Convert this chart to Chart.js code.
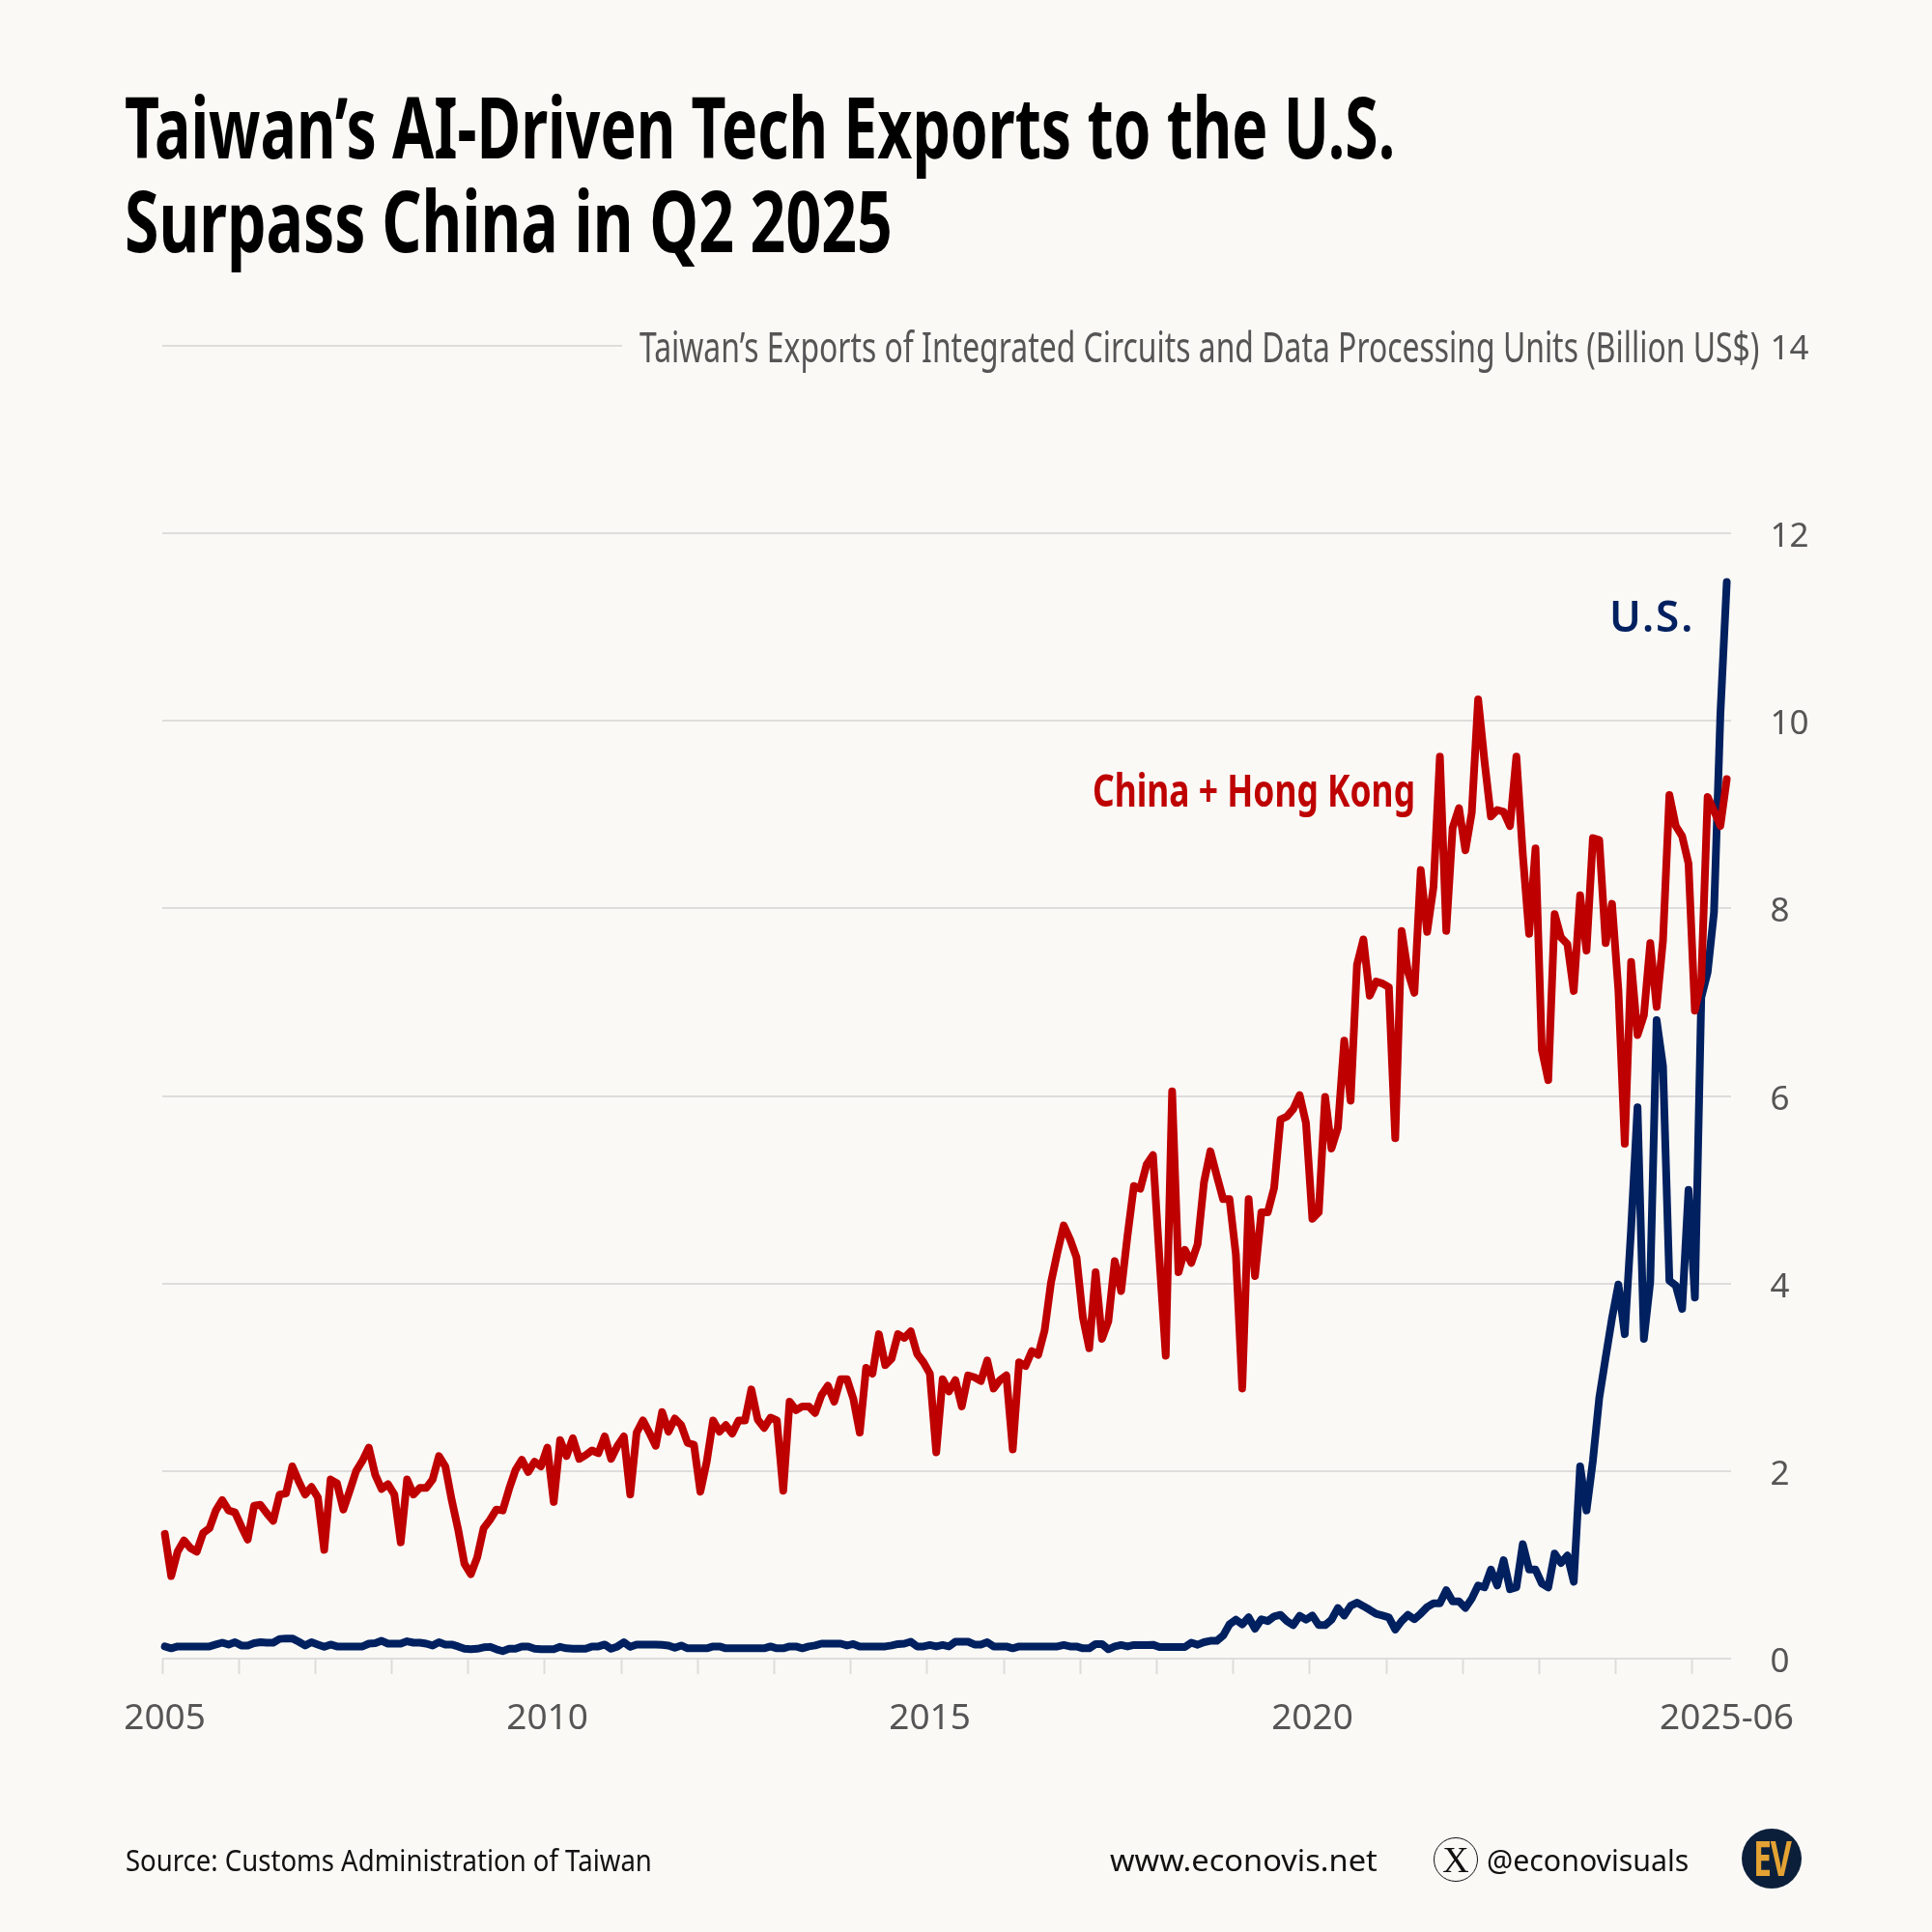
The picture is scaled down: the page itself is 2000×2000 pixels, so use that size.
<!DOCTYPE html>
<html>
<head>
<meta charset="utf-8">
<title>Taiwan's AI-Driven Tech Exports</title>
<script src="https://cdn.jsdelivr.net/npm/chart.js@4/dist/chart.umd.min.js"></script>
<style>
  html, body { margin: 0; padding: 0; background: #faf9f6; }
  #page { position: relative; width: 2000px; height: 2000px; background: #faf9f6; overflow: hidden; }
  #chart { position: absolute; left: 0; top: 0; }
  .txt { position: absolute; white-space: nowrap; transform-origin: left top; line-height: 1; }
  .title { font: bold 87px "Noto Sans", sans-serif; color: #000; left: 129px; line-height: 1; }
  .foot { font: 30px "Noto Sans", sans-serif; color: #111; }
  #subMask { position: absolute; left: 644px; top: 335px; width: 1180px; height: 46px; background: #faf9f6; }
  #subtitle { left: 662px; top: 329px; font: 43px "Noto Sans", sans-serif; color: #555; }
  #xIcon { position: absolute; left: 1484px; top: 1902px; width: 44px; height: 44px; border: 1.5px solid #111; border-radius: 50%; text-align: center; font: 38px/44px "Liberation Serif", serif; color: #111; }
  #logo { position: absolute; left: 1803px; top: 1893px; width: 62px; height: 62px; border-radius: 50%; background: #0b1f3a; color: #e3a233; text-align: center; font: bold 50px/60px "Noto Sans", sans-serif; }
  #logo span { display: inline-block; transform: scaleX(0.68); letter-spacing: -2px; }
</style>
</head>
<body>
<div id="page">
  <canvas id="chart" width="2000" height="2000"></canvas>
  <div id="subMask"></div>
  <div class="txt title" data-w="1315" style="top:87px">Taiwan’s AI-Driven Tech Exports to the U.S.</div>
  <div class="txt title" data-w="795" style="top:184px">Surpass China in Q2 2025</div>
  <div class="txt" id="subtitle" data-w="1159">Taiwan’s Exports of Integrated Circuits and Data Processing Units (Billion US$)</div>
  <div class="txt" data-w="334" style="left:1131px;top:786px;font:bold 46px 'Noto Sans',sans-serif;color:#be0000">China + Hong Kong</div>
  <div class="txt" data-w="88" style="left:1666px;top:606px;font:600 45px 'Noto Sans',sans-serif;color:#00205f;letter-spacing:2px">U.S.</div>
  <div class="txt foot" data-w="545" style="left:130px;top:1905px">Source: Customs Administration of Taiwan</div>
  <div class="txt foot" data-w="277" style="left:1149px;top:1905px">www.econovis.net</div>
  <div id="xIcon">X</div>
  <div class="txt foot" data-w="209" style="left:1539px;top:1905px">@econovisuals</div>
  <div id="logo"><span>EV</span></div>
</div>
<script>
// monthly values, billion US$, Jan 2005 - Jun 2025
const chinaHK = [
  1.33, 0.88, 1.14, 1.26, 1.18, 1.14, 1.34, 1.39, 1.58, 1.69, 1.58, 1.56,
  1.41, 1.27, 1.63, 1.64, 1.55, 1.47, 1.75, 1.76, 2.05, 1.89, 1.75, 1.83,
  1.72, 1.16, 1.91, 1.87, 1.59, 1.79, 2.00, 2.11, 2.25, 1.96, 1.81, 1.86,
  1.75, 1.24, 1.91, 1.75, 1.82, 1.82, 1.91, 2.16, 2.05, 1.69, 1.38, 1.01,
  0.90, 1.08, 1.39, 1.48, 1.59, 1.58, 1.81, 2.01, 2.12, 1.99, 2.10, 2.05,
  2.25, 1.67, 2.33, 2.16, 2.35, 2.13, 2.17, 2.22, 2.19, 2.37, 2.13, 2.27,
  2.37, 1.75, 2.41, 2.54, 2.41, 2.27, 2.63, 2.42, 2.56, 2.49, 2.30, 2.28,
  1.78, 2.10, 2.54, 2.42, 2.49, 2.40, 2.54, 2.54, 2.87, 2.55, 2.46, 2.57,
  2.54, 1.79, 2.74, 2.65, 2.69, 2.69, 2.62, 2.81, 2.91, 2.74, 2.98, 2.98,
  2.77, 2.41, 3.10, 3.04, 3.46, 3.13, 3.20, 3.46, 3.42, 3.49, 3.25, 3.16,
  3.04, 2.20, 2.98, 2.85, 2.97, 2.69, 3.02, 3.00, 2.96, 3.18, 2.88, 2.97,
  3.02, 2.23, 3.16, 3.12, 3.28, 3.24, 3.50, 4.01, 4.33, 4.62, 4.47, 4.28,
  3.64, 3.31, 4.12, 3.41, 3.60, 4.24, 3.92, 4.51, 5.04, 5.01, 5.27, 5.37,
  4.28, 3.23, 6.05, 4.12, 4.36, 4.22, 4.42, 5.08, 5.41, 5.15, 4.90, 4.90,
  4.31, 2.88, 4.90, 4.08, 4.76, 4.76, 5.02, 5.75, 5.78, 5.86, 6.01, 5.71,
  4.69, 4.76, 5.99, 5.44, 5.66, 6.59, 5.95, 7.40, 7.67, 7.07, 7.22, 7.20,
  7.16, 5.55, 7.76, 7.32, 7.10, 8.41, 7.75, 8.23, 9.62, 7.76, 8.86, 9.07,
  8.62, 9.02, 10.23, 9.57, 8.98, 9.05, 9.03, 8.88, 9.62, 8.58, 7.73, 8.64,
  6.49, 6.17, 7.94, 7.69, 7.62, 7.12, 8.14, 7.55, 8.75, 8.73, 7.63, 8.05,
  7.13, 5.49, 7.43, 6.65, 6.86, 7.63, 6.95, 7.66, 9.21, 8.88, 8.77, 8.48,
  6.91, 7.23, 9.19, 9.04, 8.88, 9.38
];
const usExports = [
  0.13, 0.11, 0.13, 0.13, 0.13, 0.13, 0.13, 0.13, 0.15, 0.17, 0.15, 0.175,
  0.14, 0.14, 0.165, 0.175, 0.17, 0.17, 0.21, 0.215, 0.215, 0.18, 0.14, 0.175,
  0.15, 0.125, 0.15, 0.13, 0.13, 0.13, 0.13, 0.13, 0.16, 0.165, 0.19, 0.16,
  0.16, 0.16, 0.185, 0.17, 0.17, 0.16, 0.14, 0.175, 0.15, 0.15, 0.13, 0.105,
  0.10, 0.105, 0.12, 0.125, 0.10, 0.08, 0.105, 0.105, 0.13, 0.13, 0.105, 0.10,
  0.10, 0.10, 0.125, 0.11, 0.105, 0.105, 0.105, 0.13, 0.13, 0.15, 0.105, 0.13,
  0.175, 0.125, 0.15, 0.15, 0.15, 0.15, 0.147, 0.14, 0.115, 0.14, 0.11, 0.11,
  0.11, 0.11, 0.13, 0.13, 0.11, 0.11, 0.11, 0.11, 0.11, 0.11, 0.11, 0.13,
  0.11, 0.11, 0.13, 0.13, 0.11, 0.13, 0.14, 0.16, 0.16, 0.16, 0.16, 0.14,
  0.155, 0.13, 0.13, 0.13, 0.13, 0.13, 0.14, 0.155, 0.16, 0.18, 0.13, 0.13,
  0.145, 0.13, 0.145, 0.13, 0.18, 0.18, 0.18, 0.15, 0.15, 0.175, 0.13, 0.13,
  0.13, 0.11, 0.13, 0.13, 0.13, 0.13, 0.13, 0.13, 0.13, 0.145, 0.13, 0.13,
  0.11, 0.11, 0.155, 0.155, 0.10, 0.13, 0.145, 0.13, 0.145, 0.145, 0.145, 0.148,
  0.124, 0.124, 0.124, 0.124, 0.124, 0.17, 0.148, 0.175, 0.19, 0.19, 0.245, 0.365,
  0.415, 0.365, 0.44, 0.32, 0.42, 0.40, 0.45, 0.467, 0.40, 0.357, 0.457, 0.415,
  0.46, 0.357, 0.357, 0.415, 0.54, 0.46, 0.563, 0.597, 0.56, 0.52, 0.477, 0.46,
  0.44, 0.31, 0.40, 0.467, 0.42, 0.48, 0.55, 0.59, 0.59, 0.73, 0.61, 0.61,
  0.54, 0.64, 0.78, 0.76, 0.95, 0.78, 1.05, 0.74, 0.76, 1.22, 0.95, 0.95,
  0.80, 0.76, 1.12, 1.02, 1.10, 0.82, 2.05, 1.58, 2.11, 2.78, 3.21, 3.63,
  3.99, 3.46, 4.59, 5.88, 3.41, 4.02, 6.81, 6.32, 4.03, 3.98, 3.73, 5.00,
  3.85, 7.05, 7.32, 7.96, 10.07, 11.48
];

// x ticks sit a little left of their month in the original
const tickShift = -0.4;
const tickMonths = [0, 12, 24, 36, 48, 60, 72, 84, 96, 108, 120, 132, 144, 156, 168, 180, 192, 204, 216, 228, 240, 245];
const tickLabels = ['2005', '', '', '', '', '2010', '', '', '', '', '2015', '', '', '', '', '2020', '', '', '', '', '', '2025-06'];
const yTicks = [0, 2, 4, 6, 8, 10, 12, 14];

const gridColor = '#dedddb';

const points = values => values.map((y, x) => ({ x, y }));

new Chart(document.getElementById('chart'), {
  type: 'line',
  data: {
    datasets: [
      { label: 'China + Hong Kong', data: points(chinaHK), borderColor: '#be0000' },
      { label: 'U.S.', data: points(usExports), borderColor: '#00205f' }
    ]
  },
  options: {
    responsive: false,
    devicePixelRatio: 1,
    animation: false,
    clip: false,
    layout: { autoPadding: false, padding: { left: 168, top: 358, right: 0, bottom: 0 } },
    elements: {
      point: { radius: 0 },
      line: { borderWidth: 8, tension: 0, borderCapStyle: 'round', borderJoinStyle: 'round' }
    },
    plugins: { legend: { display: false }, tooltip: { enabled: false } },
    scales: {
      x: {
        type: 'linear',
        min: tickShift,
        max: 246 + tickShift,
        afterBuildTicks: scale => { scale.ticks = tickMonths.map(m => ({ value: m + tickShift })); },
        afterFit: scale => { scale.height = 283; },
        border: { display: false },
        grid: {
          drawOnChartArea: false,
          tickLength: 16,
          tickWidth: 2,
          tickColor: ctx => (ctx.index === tickMonths.length - 1 ? 'transparent' : gridColor)
        },
        ticks: {
          autoSkip: false,
          maxRotation: 0,
          padding: 24,
          labelOffset: 2.6,
          color: '#555',
          font: { family: '"Noto Sans", sans-serif', size: 37 },
          callback: (v, i) => tickLabels[i]
        }
      },
      y: {
        position: 'right',
        min: 0,
        max: 14,
        afterBuildTicks: scale => { scale.ticks = yTicks.map(value => ({ value })); },
        afterFit: scale => { scale.width = 208.5; },
        border: { display: false },
        grid: { color: gridColor, lineWidth: 2, drawTicks: false },
        ticks: { padding: 41, labelOffset: 4, color: '#555', font: { family: '"Noto Sans", sans-serif', size: 35 } }
      }
    }
  }
});

// squeeze the overlay texts to the widths they have in the original
document.fonts.ready.then(() => {
  document.querySelectorAll('[data-w]').forEach(el => {
    el.style.transform = `scaleX(${el.dataset.w / el.offsetWidth})`;
  });
});
</script>
</body>
</html>
